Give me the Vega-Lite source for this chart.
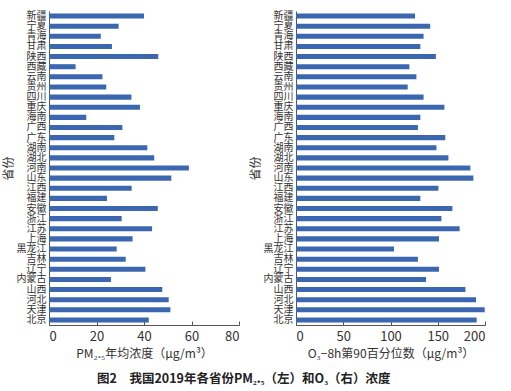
{
  "$schema": "https://vega.github.io/schema/vega-lite/v6.json",
  "padding": {"left": 2, "top": 10, "right": 4, "bottom": 4},
  "background": "white",
  "config": {
    "font": "Noto Sans CJK SC",
    "view": {"stroke": null},
    "concat": {"spacing": 9},
    "axis": {"grid": false, "domainColor": "#555", "tickColor": "#555", "labelColor": "#333", "titleColor": "#333", "labelFont": "Noto Sans CJK SC", "titleFont": "Noto Sans CJK SC", "titleFontWeight": "normal"}
  },
  "title": {"text": "图2　我国2019年各省份PM₂.₅（左）和O₃（右）浓度", "orient": "bottom", "anchor": "middle", "fontSize": 12.5, "fontWeight": "bold", "color": "#222", "offset": 14, "font": "Noto Sans CJK SC"},
  "datasets": {
    "prov": [
      {"province": "新疆", "pm25": 40.0, "o3": 126},
      {"province": "宁夏", "pm25": 29.3, "o3": 142},
      {"province": "青海", "pm25": 21.8, "o3": 135},
      {"province": "甘肃", "pm25": 26.5, "o3": 131.6},
      {"province": "陕西", "pm25": 46.0, "o3": 148},
      {"province": "西藏", "pm25": 11.2, "o3": 120},
      {"province": "云南", "pm25": 22.5, "o3": 127.4},
      {"province": "贵州", "pm25": 24.1, "o3": 118.2},
      {"province": "四川", "pm25": 34.7, "o3": 135},
      {"province": "重庆", "pm25": 38.3, "o3": 157},
      {"province": "海南", "pm25": 15.7, "o3": 131.6},
      {"province": "广西", "pm25": 30.9, "o3": 129},
      {"province": "广东", "pm25": 27.5, "o3": 158},
      {"province": "湖南", "pm25": 41.4, "o3": 148.6},
      {"province": "湖北", "pm25": 44.3, "o3": 161.3},
      {"province": "河南", "pm25": 58.9, "o3": 184.5},
      {"province": "山东", "pm25": 51.5, "o3": 187.7},
      {"province": "江西", "pm25": 34.8, "o3": 150.7},
      {"province": "福建", "pm25": 24.4, "o3": 131.6},
      {"province": "安徽", "pm25": 45.8, "o3": 165.5},
      {"province": "浙江", "pm25": 30.6, "o3": 153.9},
      {"province": "江苏", "pm25": 43.4, "o3": 173.2},
      {"province": "上海", "pm25": 35.2, "o3": 151.3},
      {"province": "黑龙江", "pm25": 28.5, "o3": 103.7},
      {"province": "吉林", "pm25": 32.3, "o3": 129},
      {"province": "辽宁", "pm25": 40.6, "o3": 151.3},
      {"province": "内蒙古", "pm25": 26.1, "o3": 137.6},
      {"province": "山西", "pm25": 47.7, "o3": 179.3},
      {"province": "河北", "pm25": 50.4, "o3": 190.5},
      {"province": "天津", "pm25": 51.1, "o3": 199.7},
      {"province": "北京", "pm25": 42.0, "o3": 191.2}
    ]
  },
  "hconcat": [
    {
      "data": {"name": "prov"},
      "width": 190,
      "height": 314,
      "mark": {"type": "bar", "color": "#3b67b1"},
      "encoding": {
        "y": {"field": "province", "type": "nominal", "sort": null, "title": "省份",
          "scale": {"paddingInner": 0.5, "paddingOuter": 0.25},
          "axis": {"ticks": false, "labelFontSize": 10, "labelPadding": 3, "labelOverlap": false, "labelBound": false, "titleFontSize": 12, "titlePadding": 1}},
        "x": {"field": "pm25", "type": "quantitative", "title": "PM₂.₅年均浓度（μg/m³）",
          "scale": {"domain": [0, 80], "nice": false},
          "axis": {"values": [0, 20, 40, 60, 80], "tickSize": -4, "labelFontSize": 13, "labelPadding": 9, "titleFontSize": 12, "titlePadding": 5}}
      }
    },
    {
      "data": {"name": "prov"},
      "width": 189,
      "height": 314,
      "mark": {"type": "bar", "color": "#3b67b1"},
      "encoding": {
        "y": {"field": "province", "type": "nominal", "sort": null, "title": "省份",
          "scale": {"paddingInner": 0.5, "paddingOuter": 0.25},
          "axis": {"ticks": false, "labelFontSize": 10, "labelPadding": 3, "labelOverlap": false, "labelBound": false, "titleFontSize": 12, "titlePadding": 1}},
        "x": {"field": "o3", "type": "quantitative", "title": "O₃−8h第90百分位数（μg/m³）",
          "scale": {"domain": [0, 200], "nice": false},
          "axis": {"values": [0, 50, 100, 150, 200], "tickSize": -4, "labelFontSize": 13, "labelPadding": 9, "titleFontSize": 12, "titlePadding": 5}}
      }
    }
  ]
}
